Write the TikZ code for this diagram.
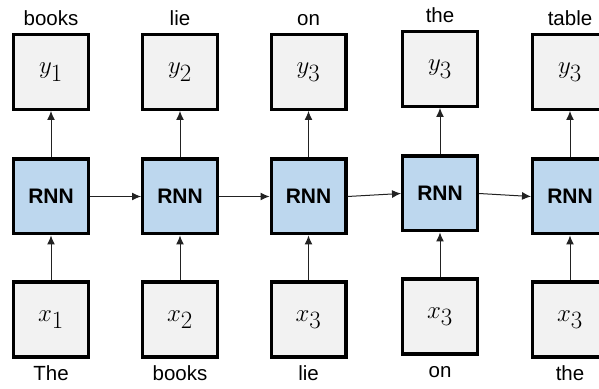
\documentclass[tikz,border=0pt]{standalone}
\usepackage{fontspec}
\setmainfont{Liberation Sans}
\usetikzlibrary{arrows.meta}
\definecolor{cellgray}{HTML}{F2F2F2}
\definecolor{cellblue}{HTML}{BDD7EE}
\definecolor{wire}{HTML}{222222}
\begin{document}
\begin{tikzpicture}[x=1pt,y=1pt,
  cell/.style={draw=black,line width=3.2pt,minimum size=74.8pt,inner sep=0pt,
    fill=cellgray,font=\fontsize{33}{33}\selectfont},
  rnncell/.style={cell,fill=cellblue,font=\fontsize{21}{21}\selectfont\bfseries},
  word/.style={anchor=base,inner sep=0pt,font=\fontsize{20.5}{21}\selectfont},
  link/.style={draw=wire,line width=1pt,-{Latex[length=9pt,width=8pt]}}]
\useasboundingbox (0,0) rectangle (599,388);
\clip (0,0) rectangle (599,388);
\fill[white] (0,0) rectangle (599,388);

% one column per time step: x position, vertical shift, output index, input index, words
\foreach \i/\cx/\dy/\yo/\xi/\top/\bot in {
    1/51/0/1/1/books/The,
    2/180/0/2/2/lie/books,
    3/308.5/0/3/3/on/lie,
    4/440/3/3/3/the/on,
    5/570/0/3/3/table/the}{
  \node[cell]    (y\i) at (\cx,316+\dy)   {$y_{\yo}$};
  \node[rnncell] (r\i) at (\cx,191.5+\dy) {RNN};
  \node[cell]    (x\i) at (\cx,68.5+\dy)  {$x_{\xi}$};
  \node[word]    (t\i) at (\cx,362+\dy)   {\top};
  \node[word]    (b\i) at (\cx,8+\dy)     {\bot};
  \draw[link] (x\i) -- (r\i);
  \draw[link] (r\i) -- (y\i);
}

% hidden state passed along the sequence
\foreach \a/\b in {1/2,2/3,3/4,4/5}
  \draw[link] (r\a.east) -- (r\b.west);
\end{tikzpicture}
\end{document}
